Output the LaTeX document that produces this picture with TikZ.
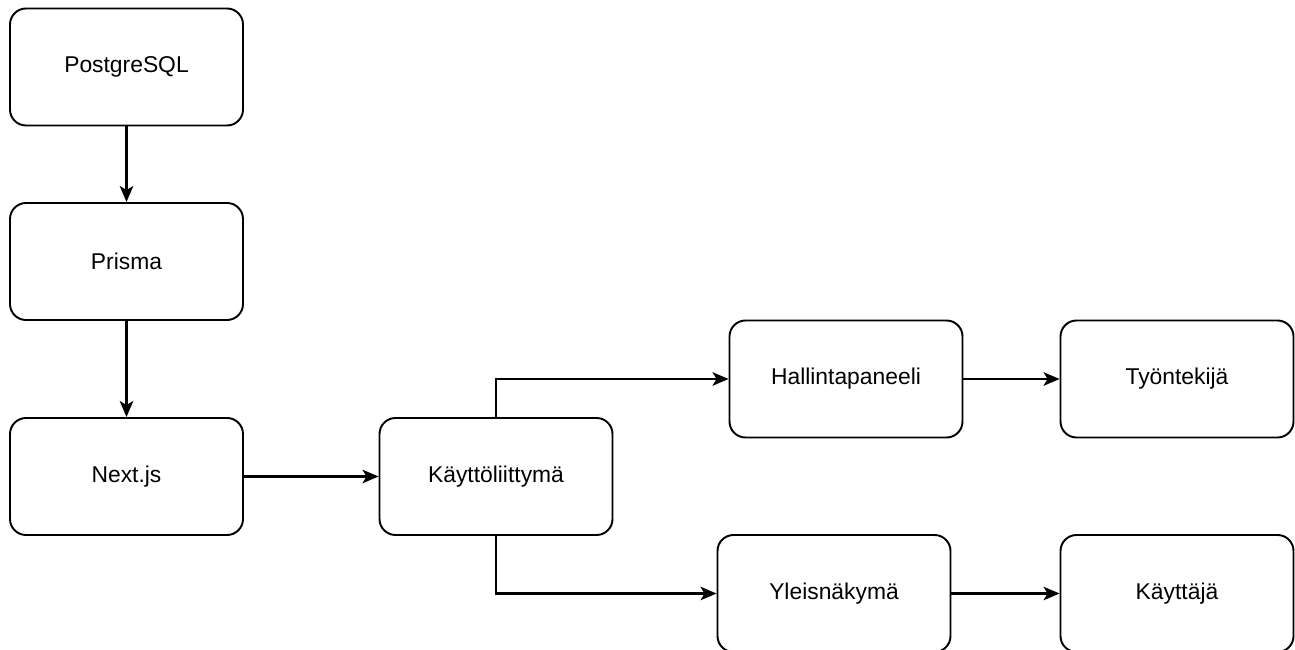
\documentclass[tikz,border=0pt]{standalone}
\usepackage{fontspec}
\setmainfont{Liberation Sans}
\usetikzlibrary{arrows.meta}

\begin{document}
\begin{tikzpicture}[
	line width=1.1pt,
	nuoli/.style={-{Stealth[length=0.32cm,width=0.27cm,inset=0.08cm]},line width=1.3pt},
	laatikko/.style={draw,rounded corners=0.32cm,minimum width=4.66cm,minimum height=2.34cm,
		font=\fontsize{13}{15}\selectfont}]

	\useasboundingbox (0,0) rectangle (25.9,-13);

	% Tietokanta ja taustapalvelu
	\node [laatikko] (pg) at (2.53,-1.34) {PostgreSQL};
	\node [laatikko] (prisma) at (2.53,-5.23) {Prisma};
	\node [laatikko] (next) at (2.53,-9.53) {Next.js};

	% Kayttoliittyma
	\node [laatikko] (ui) at (9.92,-9.53) {Käyttöliittymä};
	\node [laatikko] (hallinta) at (16.92,-7.58) {Hallintapaneeli};
	\node [laatikko] (yleis) at (16.68,-11.87) {Yleisnäkymä};

	% Roolit
	\node [laatikko] (tyontekija) at (23.54,-7.58) {Työntekijä};
	\node [laatikko] (kayttaja) at (23.54,-11.87) {Käyttäjä};

	% Nuolet
	\draw [nuoli] (pg) -- (prisma);
	\draw [nuoli] (prisma) -- (next);
	\draw [nuoli] (next) -- (ui);
	\draw [nuoli] (ui.north) |- (hallinta.west);
	\draw [nuoli] (ui.south) |- (yleis.west);
	\draw [nuoli] (hallinta) -- (tyontekija);
	\draw [nuoli] (yleis) -- (kayttaja);
\end{tikzpicture}
\end{document}
